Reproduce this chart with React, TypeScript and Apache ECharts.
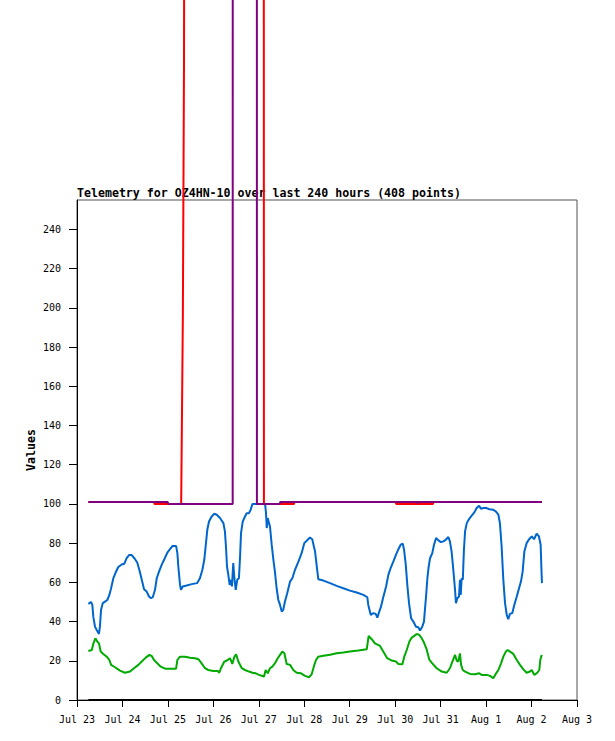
import React, { useEffect, useRef } from "react";
import * as echarts from "echarts";

const titleText = "Telemetry for OZ4HN-10 over last 240 hours (408 points)";
const xTickLabels = ["Jul 23", "Jul 24", "Jul 25", "Jul 26", "Jul 27", "Jul 28", "Jul 29", "Jul 30", "Jul 31", "Aug 1", "Aug 2", "Aug 3"];
const yTickValues = [0, 20, 40, 60, 80, 100, 120, 140, 160, 180, 200, 220, 240];

// hours since Jul 23 00:00
const blueHours = [6.0, 7.4, 8.1, 8.6, 9.5, 10.4, 11.6, 12.1, 12.7, 13.6, 14.8, 16.0, 17.1, 18.0, 19.2, 20.4, 21.8, 23.6, 25.0, 26.2, 27.6, 28.9, 30.3, 31.8, 32.9, 34.2, 35.4, 36.8, 38.0, 39.1, 40.0, 41.2, 42.1, 43.3, 44.7, 46.1, 47.7, 49.1, 50.5, 52.3, 53.0, 53.5, 54.4, 54.9, 55.8, 57.9, 60.6, 63.4, 64.9, 66.2, 67.2, 68.1, 68.8, 69.7, 71.1, 72.5, 73.8, 75.5, 77.3, 78.1, 78.7, 79.2, 79.9, 80.6, 81.3, 81.8, 82.5, 83.1, 83.8, 84.6, 85.5, 86.1, 86.6, 87.5, 88.7, 89.6, 90.8, 91.7, 92.6, 99.3, 99.8, 100.2, 100.7, 101.4, 101.9, 102.8, 103.7, 104.5, 105.4, 106.3, 107.2, 108.1, 108.9, 109.8, 111.0, 112.5, 113.7, 115.1, 116.9, 118.6, 120.0, 121.8, 123.0, 124.2, 125.7, 126.6, 127.4, 130.1, 133.6, 137.1, 140.6, 144.1, 147.7, 151.2, 153.3, 153.8, 155.1, 156.5, 157.7, 158.6, 159.6, 160.5, 161.7, 163.2, 164.4, 165.6, 167.0, 168.4, 169.7, 170.9, 172.0, 172.7, 173.6, 174.4, 175.3, 176.4, 177.6, 179.0, 180.2, 181.1, 182.3, 183.2, 183.7, 184.3, 185.0, 185.7, 186.4, 187.6, 188.5, 189.6, 190.8, 192.2, 193.4, 194.7, 196.1, 196.9, 197.8, 198.7, 199.6, 200.1, 200.8, 201.7, 202.2, 202.6, 203.1, 203.7, 204.3, 204.9, 205.8, 207.0, 208.4, 209.8, 211.0, 212.3, 213.3, 214.5, 216.3, 217.7, 219.8, 221.1, 222.5, 223.3, 224.2, 225.1, 226.0, 226.9, 227.7, 228.6, 229.8, 230.9, 232.2, 233.4, 234.4, 235.3, 236.2, 237.4, 238.7, 240.1, 241.3, 242.7, 243.9, 244.8, 245.2, 245.5];
const blueValues = [49.0, 50, 48.5, 42.5, 37.4, 35.7, 33.7, 37.4, 46, 49.4, 50.2, 51, 53.6, 57, 62.1, 65, 67.8, 69.1, 69.5, 72.3, 74, 73.9, 72.3, 70.1, 66.4, 61.3, 56.5, 55.3, 52.8, 51.9, 52.4, 56.2, 62.1, 65.5, 68.9, 71.8, 75.2, 76.9, 78.6, 78.6, 74.9, 68.1, 58.7, 56.2, 57.9, 58.4, 59.1, 59.6, 62.1, 66.4, 71.5, 80, 86.8, 91, 93.6, 95, 94.5, 92.8, 90.2, 86, 77.5, 68.1, 63.8, 58.7, 61.3, 57.9, 69.8, 62.1, 56.2, 61.3, 62.1, 73.2, 85.1, 91, 93.6, 95.3, 95.3, 97, 100, 100, 95.3, 87.7, 92.8, 90.2, 88.5, 79.2, 71.5, 65.5, 57, 51, 48.5, 45.1, 46, 50.2, 54.5, 60.4, 62.1, 66.4, 70.6, 74.9, 80, 81.7, 82.9, 82, 75.7, 68.1, 61.6, 60.9, 59.6, 58.2, 57, 55.8, 54.8, 53.6, 52.4, 48.5, 43.4, 44.3, 43.9, 42, 45.1, 47.6, 52.4, 57.9, 63.8, 67.3, 70.6, 74, 76.9, 79.2, 79.7, 76.6, 68.9, 58.7, 49.4, 41.7, 40, 37.4, 37.1, 35.4, 37.4, 40, 46, 52.8, 62.1, 68.1, 72.3, 74.9, 79.2, 82.6, 81.4, 80.5, 80.9, 81.7, 83.1, 80.9, 75.7, 66.4, 56.2, 49.4, 51.9, 52.8, 61.3, 53.6, 62.1, 61.3, 76.6, 86, 90.2, 92.3, 94, 95.7, 97.9, 99.1, 97.5, 97.9, 97.9, 97.3, 97, 96.2, 94.5, 90.2, 78.3, 61.3, 49.4, 43.4, 41.2, 43.9, 44.3, 48.5, 52.8, 57, 60.4, 65.5, 75.7, 80, 82, 83.4, 82, 84.8, 83.4, 79.2, 67.3, 59.6];

const greenHours = [6.0, 7.8, 8.6, 9.7, 10.7, 11.6, 12.5, 13.9, 15.7, 17.1, 18.0, 20.1, 22.7, 25.3, 28.0, 30.1, 32.4, 34.2, 36.3, 38.2, 39.4, 40.7, 42.4, 44.2, 46.5, 50.0, 52.3, 53.0, 54.4, 57.0, 59.7, 62.3, 64.1, 65.8, 67.6, 69.3, 72.0, 74.3, 75.1, 76.0, 77.8, 79.6, 80.8, 82.0, 83.1, 84.0, 85.2, 87.0, 88.7, 90.8, 92.6, 94.4, 96.1, 97.5, 98.7, 99.6, 100.7, 101.9, 103.1, 104.5, 106.0, 107.2, 108.4, 109.5, 110.7, 112.5, 114.2, 116.0, 118.3, 120.4, 122.5, 123.9, 125.3, 126.2, 127.4, 130.1, 133.6, 137.1, 140.6, 144.1, 148.5, 153.0, 154.0, 155.6, 157.3, 160.0, 161.7, 163.8, 166.2, 168.4, 169.7, 171.8, 172.8, 174.1, 175.5, 176.7, 178.1, 179.4, 180.7, 182.0, 183.2, 184.6, 186.0, 187.6, 189.9, 192.6, 195.2, 196.9, 198.2, 199.6, 200.5, 201.3, 202.2, 202.8, 203.7, 204.9, 207.5, 210.1, 212.4, 213.7, 216.3, 218.1, 219.8, 221.1, 222.5, 223.9, 225.1, 226.4, 227.4, 228.6, 230.4, 232.2, 233.9, 235.7, 237.4, 239.2, 240.1, 241.5, 243.0, 244.1, 244.6, 245.4];
const greenValues = [25, 25.5, 28.6, 31.5, 29.8, 28.9, 24.7, 23.5, 22.1, 20.4, 17.9, 16.7, 15, 13.9, 14.5, 16.2, 17.9, 19.6, 21.6, 23, 22.5, 20.4, 18.7, 17, 16, 16, 16, 20.4, 22.1, 22.1, 21.6, 21.3, 20.8, 18.7, 16.2, 15.3, 14.8, 14.8, 13.9, 16.2, 19.6, 20.4, 21.3, 18.4, 22.1, 23.3, 19.6, 16.2, 15.3, 14.5, 13.9, 13.6, 12.8, 12.4, 11.9, 15.3, 13.6, 16.2, 17, 18.7, 21.3, 23, 24.7, 23.8, 18.4, 17.9, 15.3, 13.9, 13.6, 12.3, 11.6, 13.1, 17.9, 20.4, 22.1, 22.6, 23.1, 23.8, 24.2, 24.7, 25.2, 25.9, 32.7, 31, 28.9, 27.6, 24.7, 21.3, 20.1, 19.6, 18.4, 18.2, 22.1, 25.5, 29.8, 31.8, 32.7, 33.7, 33.2, 31.5, 29.3, 25.9, 20.6, 18.7, 16.2, 14.5, 13.9, 16.2, 19.6, 23, 20.1, 19.6, 23.8, 17.9, 15.3, 14.5, 13.3, 13.1, 13.6, 12.8, 12.8, 12.3, 11.1, 13.3, 15.3, 18.7, 22.1, 24.7, 25.5, 24.7, 23.5, 20.4, 17.9, 15.6, 13.9, 14.5, 15.3, 12.8, 13.9, 15.3, 20.4, 23];

const redHours = [6.0, 40.7, 40.9, 55.0, 55.3, 55.9, 56.5, 57.5, 98.5, 98.7, 107.2, 114.6, 114.8, 168.3, 168.5, 188.0, 188.2, 245.5];
const redValues = [101, 101, 100, 100, 132, 197, 325, 1000, 1000, 100, 100, 100, 101, 101, 100, 100, 101, 101];

const purpleHours = [6.0, 47.8, 48.3, 82.2, 82.3, 94.9, 95.0, 107.1, 107.3, 179.3, 179.6, 179.9, 245.5];
const purpleValues = [101, 101, 100, 100, 1000, 1000, 100, 100, 101, 101, 100.3, 101, 101];

const blackHours = [6.0, 245.5];
const blackValues = [0, 0];

const zip = (h: number[], v: number[]) => h.map((x, i) => [x, v[i]]);

export default function App() {
  const ref = useRef<HTMLDivElement>(null);
  useEffect(() => {
    if (!ref.current) return;
    const chart = echarts.init(ref.current, undefined, { renderer: "svg" });
    const mono = '"DejaVu Sans Mono", monospace';
    const lineSeries = (name: string, data: number[][], color: string, width: number, clip: boolean) => ({
      name,
      type: "line",
      data,
      showSymbol: false,
      symbol: "none",
      clip,
      lineStyle: { color, width },
      emphasis: { disabled: true },
    });
    chart.setOption({
      animation: false,
      backgroundColor: "#fff",
      graphic: [
        {
          type: "text",
          left: 77,
          top: 187,
          style: { text: titleText, font: `bold 11.6px ${mono}`, fill: "#000" },
        },
      ],
      grid: {
        left: 77,
        top: 200,
        width: 500,
        height: 500,
        show: true,
        borderColor: "#505050",
        borderWidth: 1,
        backgroundColor: "transparent",
      },
      xAxis: {
        type: "value",
        min: 0,
        max: 264,
        interval: 24,
        axisLine: { show: true, onZero: false, lineStyle: { color: "#000", width: 1 } },
        axisTick: { show: true, length: 7, lineStyle: { color: "#000" } },
        axisLabel: {
          formatter: (v: number) => xTickLabels[Math.round(v / 24)] ?? "",
          margin: 14,
          fontFamily: mono,
          fontSize: 10,
          color: "#000",
        },
        splitLine: { show: false },
      },
      yAxis: {
        type: "value",
        min: 0,
        max: 255,
        name: "Values",
        nameLocation: "middle",
        nameGap: 40,
        nameMoveOverlap: false,
        nameTextStyle: { fontFamily: mono, fontWeight: "bold", fontSize: 11.6, color: "#000" },
        axisLine: { show: true, lineStyle: { color: "#000", width: 1 } },
        axisTick: { show: true, length: 8, customValues: yTickValues, lineStyle: { color: "#000" } },
        axisLabel: { customValues: yTickValues, margin: 16, fontFamily: mono, fontSize: 10, color: "#000" },
        splitLine: { show: false },
      },
      series: [
        lineSeries("blue", zip(blueHours, blueValues), "#0066cc", 2, true),
        lineSeries("green", zip(greenHours, greenValues), "#00aa00", 2, true),
        lineSeries("red", zip(redHours, redValues), "#ff0000", 2, false),
        lineSeries("purple", zip(purpleHours, purpleValues), "#800080", 2, false),
        lineSeries("black", zip(blackHours, blackValues), "#000000", 2, false),
      ],
    });
    return () => chart.dispose();
  }, []);
  return (
    <div
      ref={ref}
      style={{ position: "absolute", left: 0, top: 0, width: 615, height: 741, background: "#fff" }}
    />
  );
}
